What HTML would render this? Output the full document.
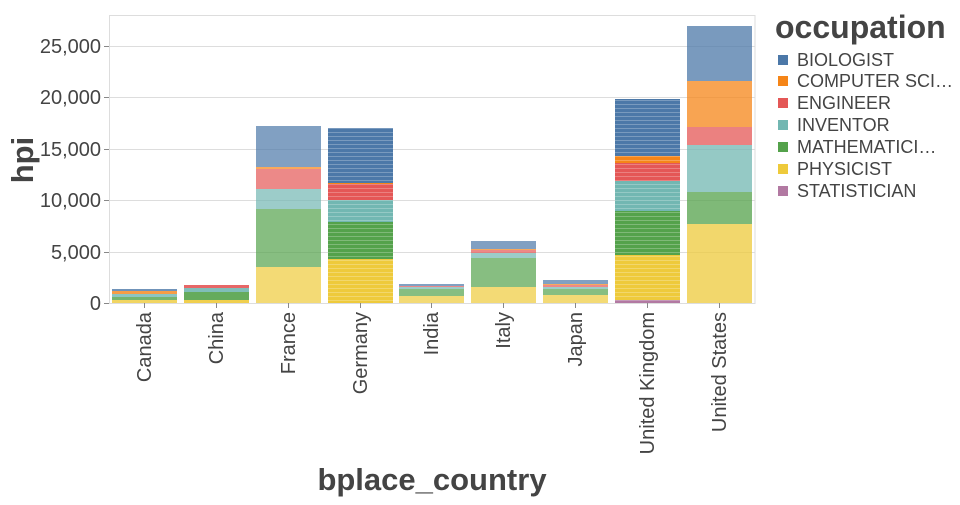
<!DOCTYPE html>
<html><head><meta charset="utf-8"><style>
body{margin:0;background:#fff;width:960px;height:500px;overflow:hidden}
text{font-family:"Liberation Sans",sans-serif;fill:#444}
</style></head><body>
<svg width="960" height="500" xmlns="http://www.w3.org/2000/svg">
<defs>
<pattern id="st" width="8" height="4" patternUnits="userSpaceOnUse"><rect y="0" width="8" height="1" fill="#fff" opacity="0.25"/></pattern>
</defs>
<g stroke="#ddd" stroke-width="1">
<line x1="109" x2="755" y1="46.5" y2="46.5"/><line x1="109" x2="755" y1="97.5" y2="97.5"/>
<line x1="109" x2="755" y1="149.5" y2="149.5"/><line x1="109" x2="755" y1="200.5" y2="200.5"/>
<line x1="109" x2="755" y1="252.5" y2="252.5"/>
<rect x="109.5" y="15.5" width="645.5" height="288" fill="none"/>
</g>
<g fill-opacity="0.8">
<rect x="112" y="300" width="65" height="3" fill="#eeca3b"/><rect x="112" y="297" width="65" height="3" fill="#54a24b"/><rect x="112" y="294" width="65" height="3" fill="#72b7b2"/><rect x="112" y="291" width="65" height="3" fill="#f58518"/><rect x="112" y="289" width="65" height="2" fill="#4c78a8"/>
</g>
<g fill-opacity="0.9">
<rect x="184" y="300" width="65" height="3" fill="#eeca3b"/><rect x="184" y="292" width="65" height="8" fill="#54a24b"/><rect x="184" y="288" width="65" height="4" fill="#72b7b2"/><rect x="184" y="285" width="65" height="3" fill="#e45756"/>
</g>
<g fill-opacity="0.7">
<rect x="256" y="267" width="65" height="36" fill="#eeca3b"/><rect x="256" y="209" width="65" height="58" fill="#54a24b"/><rect x="256" y="189" width="65" height="20" fill="#72b7b2"/><rect x="256" y="169" width="65" height="20" fill="#e45756"/><rect x="256" y="167" width="65" height="2" fill="#f58518"/><rect x="256" y="126" width="65" height="41" fill="#4c78a8"/>
</g>
<g>
<rect x="328" y="259" width="65" height="44" fill="#eeca3b"/><rect x="328" y="222" width="65" height="37" fill="#54a24b"/><rect x="328" y="200" width="65" height="22" fill="#72b7b2"/><rect x="328" y="184" width="65" height="16" fill="#e45756"/><rect x="328" y="183" width="65" height="1" fill="#f58518"/><rect x="328" y="128" width="65" height="55" fill="#4c78a8"/>
<rect x="328" y="128" width="65" height="175" fill="url(#st)"/>
</g>
<g fill-opacity="0.7">
<rect x="399" y="296" width="65" height="7" fill="#eeca3b"/><rect x="399" y="289" width="65" height="7" fill="#54a24b"/><rect x="399" y="287" width="65" height="2" fill="#72b7b2"/><rect x="399" y="286" width="65" height="1" fill="#e45756"/><rect x="399" y="284" width="65" height="2" fill="#4c78a8"/>
</g>
<g fill-opacity="0.7">
<rect x="471" y="287" width="65" height="16" fill="#eeca3b"/><rect x="471" y="258" width="65" height="29" fill="#54a24b"/><rect x="471" y="253" width="65" height="5" fill="#72b7b2"/><rect x="471" y="250" width="65" height="3" fill="#e45756"/><rect x="471" y="249" width="65" height="1" fill="#f58518"/><rect x="471" y="241" width="65" height="8" fill="#4c78a8"/>
</g>
<g fill-opacity="0.7">
<rect x="543" y="295" width="65" height="8" fill="#eeca3b"/><rect x="543" y="289" width="65" height="6" fill="#54a24b"/><rect x="543" y="287" width="65" height="2" fill="#72b7b2"/><rect x="543" y="285" width="65" height="2" fill="#e45756"/><rect x="543" y="284" width="65" height="1" fill="#f58518"/><rect x="543" y="280" width="65" height="4" fill="#4c78a8"/>
</g>
<g>
<rect x="615" y="300" width="65" height="3" fill="#b279a2"/><rect x="615" y="255" width="65" height="45" fill="#eeca3b"/><rect x="615" y="211" width="65" height="44" fill="#54a24b"/><rect x="615" y="181" width="65" height="30" fill="#72b7b2"/><rect x="615" y="163" width="65" height="18" fill="#e45756"/><rect x="615" y="156" width="65" height="7" fill="#f58518"/><rect x="615" y="99" width="65" height="57" fill="#4c78a8"/>
<rect x="615" y="99" width="65" height="204" fill="url(#st)"/>
</g>
<g fill-opacity="0.75">
<rect x="687" y="224" width="65" height="79" fill="#eeca3b"/><rect x="687" y="192" width="65" height="32" fill="#54a24b"/><rect x="687" y="145" width="65" height="47" fill="#72b7b2"/><rect x="687" y="127" width="65" height="18" fill="#e45756"/><rect x="687" y="81" width="65" height="46" fill="#f58518"/><rect x="687" y="26" width="65" height="55" fill="#4c78a8"/>
</g>
<g stroke="#888">
<line x1="109" x2="104" y1="303.5" y2="303.5"/><line x1="109" x2="104" y1="252.5" y2="252.5"/><line x1="109" x2="104" y1="200.5" y2="200.5"/><line x1="109" x2="104" y1="149.5" y2="149.5"/><line x1="109" x2="104" y1="97.5" y2="97.5"/><line x1="109" x2="104" y1="46.5" y2="46.5"/>
<line x1="144.5" x2="144.5" y1="303" y2="308"/><line x1="216.5" x2="216.5" y1="303" y2="308"/><line x1="288.5" x2="288.5" y1="303" y2="308"/><line x1="360.5" x2="360.5" y1="303" y2="308"/><line x1="431.5" x2="431.5" y1="303" y2="308"/><line x1="503.5" x2="503.5" y1="303" y2="308"/><line x1="575.5" x2="575.5" y1="303" y2="308"/><line x1="647.5" x2="647.5" y1="303" y2="308"/><line x1="719.5" x2="719.5" y1="303" y2="308"/>
</g>
<g font-size="20" text-anchor="end">
<text x="101" y="310">0</text><text x="101" y="259">5,000</text><text x="101" y="207">10,000</text>
<text x="101" y="156">15,000</text><text x="101" y="104">20,000</text><text x="101" y="53">25,000</text>
</g>
<text transform="translate(33,160) rotate(-90)" font-size="31" font-weight="bold" text-anchor="middle">hpi</text>
<g font-size="20" text-anchor="end">
<text transform="translate(151,312) rotate(-90)">Canada</text>
<text transform="translate(223,312) rotate(-90)">China</text>
<text transform="translate(295,312) rotate(-90)">France</text>
<text transform="translate(367,312) rotate(-90)">Germany</text>
<text transform="translate(438,312) rotate(-90)">India</text>
<text transform="translate(510,312) rotate(-90)">Italy</text>
<text transform="translate(582,312) rotate(-90)">Japan</text>
<text transform="translate(654,312) rotate(-90)">United Kingdom</text>
<text transform="translate(726,312) rotate(-90)">United States</text>
</g>
<text x="432" y="490" font-size="31" font-weight="bold" text-anchor="middle">bplace_country</text>
<text x="775" y="38" font-size="32" font-weight="bold">occupation</text>
<g font-size="18">
<rect x="778" y="55" width="10" height="10" fill="#4c78a8"/><text x="797" y="66">BIOLOGIST</text>
<rect x="778" y="76" width="10" height="10" fill="#f58518"/><text x="797" y="87">COMPUTER SCI…</text>
<rect x="778" y="98" width="10" height="10" fill="#e45756"/><text x="797" y="109">ENGINEER</text>
<rect x="778" y="120" width="10" height="10" fill="#72b7b2"/><text x="797" y="131">INVENTOR</text>
<rect x="778" y="142" width="10" height="10" fill="#54a24b"/><text x="797" y="153">MATHEMATICI…</text>
<rect x="778" y="164" width="10" height="10" fill="#eeca3b"/><text x="797" y="175">PHYSICIST</text>
<rect x="778" y="186" width="10" height="10" fill="#b279a2"/><text x="797" y="197">STATISTICIAN</text>
</g>
</svg>
</body></html>
